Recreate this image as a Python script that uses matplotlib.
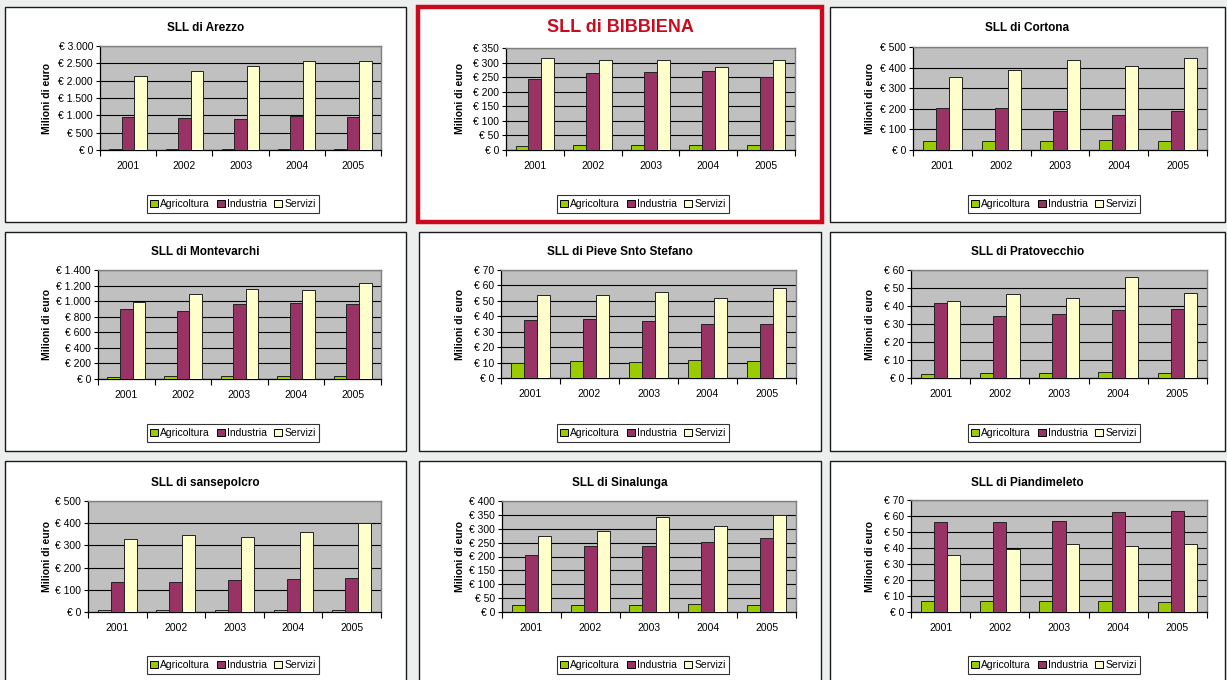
import matplotlib
matplotlib.use("Agg")
import matplotlib.pyplot as plt
from matplotlib.patches import Rectangle, Patch
from matplotlib.ticker import FuncFormatter, MultipleLocator

plt.rcParams['font.family'] = ['Liberation Sans', 'DejaVu Sans']

years = ["2001", "2002", "2003", "2004", "2005"]
series = ["Agricoltura", "Industria", "Servizi"]

# values in milioni di euro
arezzo_agr = [30, 30, 30, 30, 30]
arezzo_ind = [942, 933, 894, 981, 952]
arezzo_ser = [2135, 2269, 2433, 2567, 2567]

bibbiena_agr = [14, 16, 16, 16, 16]
bibbiena_ind = [245, 263, 266, 270, 252]
bibbiena_ser = [316, 308, 310, 286, 310]

cortona_agr = [42, 45, 44, 48, 42]
cortona_ind = [202, 203, 189, 169, 187]
cortona_ser = [355, 389, 439, 410, 448]

montevarchi_agr = [32, 38, 34, 44, 34]
montevarchi_ind = [903, 878, 963, 980, 963]
montevarchi_ser = [989, 1092, 1152, 1143, 1229]

pieve_agr = [9.8, 10.8, 10.6, 11.7, 10.8]
pieve_ind = [37.7, 38.1, 36.8, 34.7, 35.1]
pieve_ser = [53.5, 53.5, 55.9, 51.6, 58.1]

pratovecchio_agr = [2.2, 3.0, 3.0, 3.3, 3.0]
pratovecchio_ind = [41.5, 34.3, 35.6, 37.8, 38.4]
pratovecchio_ser = [42.8, 46.5, 44.5, 56.3, 47.3]

sansepolcro_agr = [7, 7, 7, 7, 7]
sansepolcro_ind = [133, 137, 145, 149, 154]
sansepolcro_ser = [331, 346, 337, 360, 400]

sinalunga_agr = [24, 26, 25, 28, 24]
sinalunga_ind = [207, 239, 239, 252, 265]
sinalunga_ser = [275, 291, 344, 311, 351]

piandimeleto_agr = [6.9, 6.9, 6.9, 6.6, 6.2]
piandimeleto_ind = [56.1, 56.5, 56.9, 62.5, 63.1]
piandimeleto_ser = [35.5, 39.3, 42.4, 41.3, 42.2]

titles = ["SLL di Arezzo", "SLL di BIBBIENA", "SLL di Cortona",
          "SLL di Montevarchi", "SLL di Pieve Snto Stefano", "SLL di Pratovecchio",
          "SLL di sansepolcro", "SLL di Sinalunga", "SLL di Piandimeleto"]
y_max = [3000, 350, 500, 1400, 70, 60, 500, 400, 70]
y_step = [500, 50, 100, 200, 10, 10, 100, 50, 10]

data = [
    (arezzo_agr, arezzo_ind, arezzo_ser),
    (bibbiena_agr, bibbiena_ind, bibbiena_ser),
    (cortona_agr, cortona_ind, cortona_ser),
    (montevarchi_agr, montevarchi_ind, montevarchi_ser),
    (pieve_agr, pieve_ind, pieve_ser),
    (pratovecchio_agr, pratovecchio_ind, pratovecchio_ser),
    (sansepolcro_agr, sansepolcro_ind, sansepolcro_ser),
    (sinalunga_agr, sinalunga_ind, sinalunga_ser),
    (piandimeleto_agr, piandimeleto_ind, piandimeleto_ser),
]

colors = ["#99cc00", "#993366", "#ffffcc"]

W, H = 1227, 680

# layout in pixels (x0, x1, y0, y1)
boxes = [(5, 406, 7, 222), (418, 822, 7, 222), (830, 1225, 7, 222),
         (5, 406, 232, 451), (419, 821, 232, 451), (830, 1225, 232, 451),
         (5, 406, 461, 700), (419, 821, 461, 700), (830, 1225, 461, 700)]
plot_areas = [(100, 381, 46, 150), (506, 795, 48, 150), (913, 1207, 47, 150),
              (98, 381, 270, 379), (501, 796, 270, 378), (911, 1207, 270, 378),
              (88, 381, 501, 612), (502, 796, 501, 612), (911, 1207, 500, 612)]
title_y = [28, 27, 28, 252, 252, 252, 483, 483, 483]
legend_x = [233, 643, 1054]
legend_y = [204, 433, 665]
ylabel_x = [47, 460, 870]


def fx(px):
    return px / W


def fy(py):
    return 1 - py / H


def euro(v, pos):
    return "€ " + f"{int(round(v)):,}".replace(",", ".")


fig = plt.figure(figsize=(W / 100, H / 100), dpi=100)
fig.patch.set_facecolor("#edefef")

for i in range(9):
    row, col = divmod(i, 3)
    bx0, bx1, by0, by1 = boxes[i]
    red = (i == 1)
    fig.patches.append(Rectangle((fx(bx0), fy(by1)), fx(bx1 - bx0), (by1 - by0) / H,
                                 transform=fig.transFigure, facecolor="white",
                                 edgecolor="#cc0a1e" if red else "#1a1a1a",
                                 linewidth=3.2 if red else 1.0, zorder=-5))

    x0, x1, y0, y1 = plot_areas[i]
    ax = fig.add_axes([fx(x0), fy(y1), fx(x1 - x0), (y1 - y0) / H])
    ax.set_facecolor("#c0c0c0")

    w = 1 / 4.5
    for k in range(3):
        pos = [j + (k - 1) * w for j in range(5)]
        ax.bar(pos, data[i][k], width=w, color=colors[k], edgecolor="#222222",
               linewidth=0.7, zorder=3)

    ax.set_xlim(-0.5, 4.5)
    ax.set_ylim(0, y_max[i])
    ax.yaxis.set_major_locator(MultipleLocator(y_step[i]))
    ax.yaxis.set_major_formatter(FuncFormatter(euro))
    ax.grid(axis="y", color="black", linewidth=0.8, zorder=1)
    ax.set_axisbelow(True)
    ax.set_xticks(range(5))
    ax.set_xticklabels(years)
    ax.set_xticks([j + 0.5 for j in range(-1, 5)], minor=True)
    ax.tick_params(axis="x", which="major", length=0, labelsize=7.5, pad=8)
    ax.tick_params(axis="x", which="minor", length=4, width=0.8, direction="out")
    ax.tick_params(axis="y", length=3, width=0.8, direction="out", labelsize=7.5, pad=2)
    for s in ("top", "right"):
        ax.spines[s].set_color("#808080")
        ax.spines[s].set_linewidth(1.0)
    for s in ("left", "bottom"):
        ax.spines[s].set_color("black")
        ax.spines[s].set_linewidth(0.9)

    cx = (bx0 + bx1) / 2
    if red:
        fig.text(fx(cx), fy(title_y[i]), titles[i], ha="center", va="center",
                 fontsize=13, fontweight="bold", color="#cc0a1e")
    else:
        fig.text(fx(cx), fy(title_y[i]), titles[i], ha="center", va="center",
                 fontsize=8.5, fontweight="bold")

    fig.text(fx(ylabel_x[col]), fy((y0 + y1) / 2), "Milioni di euro", rotation=90,
             ha="center", va="center", fontsize=7.5, fontweight="bold")

    handles = [Patch(facecolor=colors[k], edgecolor="black", linewidth=0.7) for k in range(3)]
    leg = fig.legend(handles, series, loc="center", ncol=3,
                     bbox_to_anchor=(fx(legend_x[col]), fy(legend_y[row])),
                     fontsize=7.5, frameon=True, fancybox=False, handlelength=0.7,
                     handleheight=0.7, handletextpad=0.25, columnspacing=0.7,
                     borderpad=0.35, borderaxespad=0)
    leg.get_frame().set_edgecolor("black")
    leg.get_frame().set_linewidth(0.8)

fig.savefig("out.png", dpi=100, facecolor=fig.get_facecolor())
